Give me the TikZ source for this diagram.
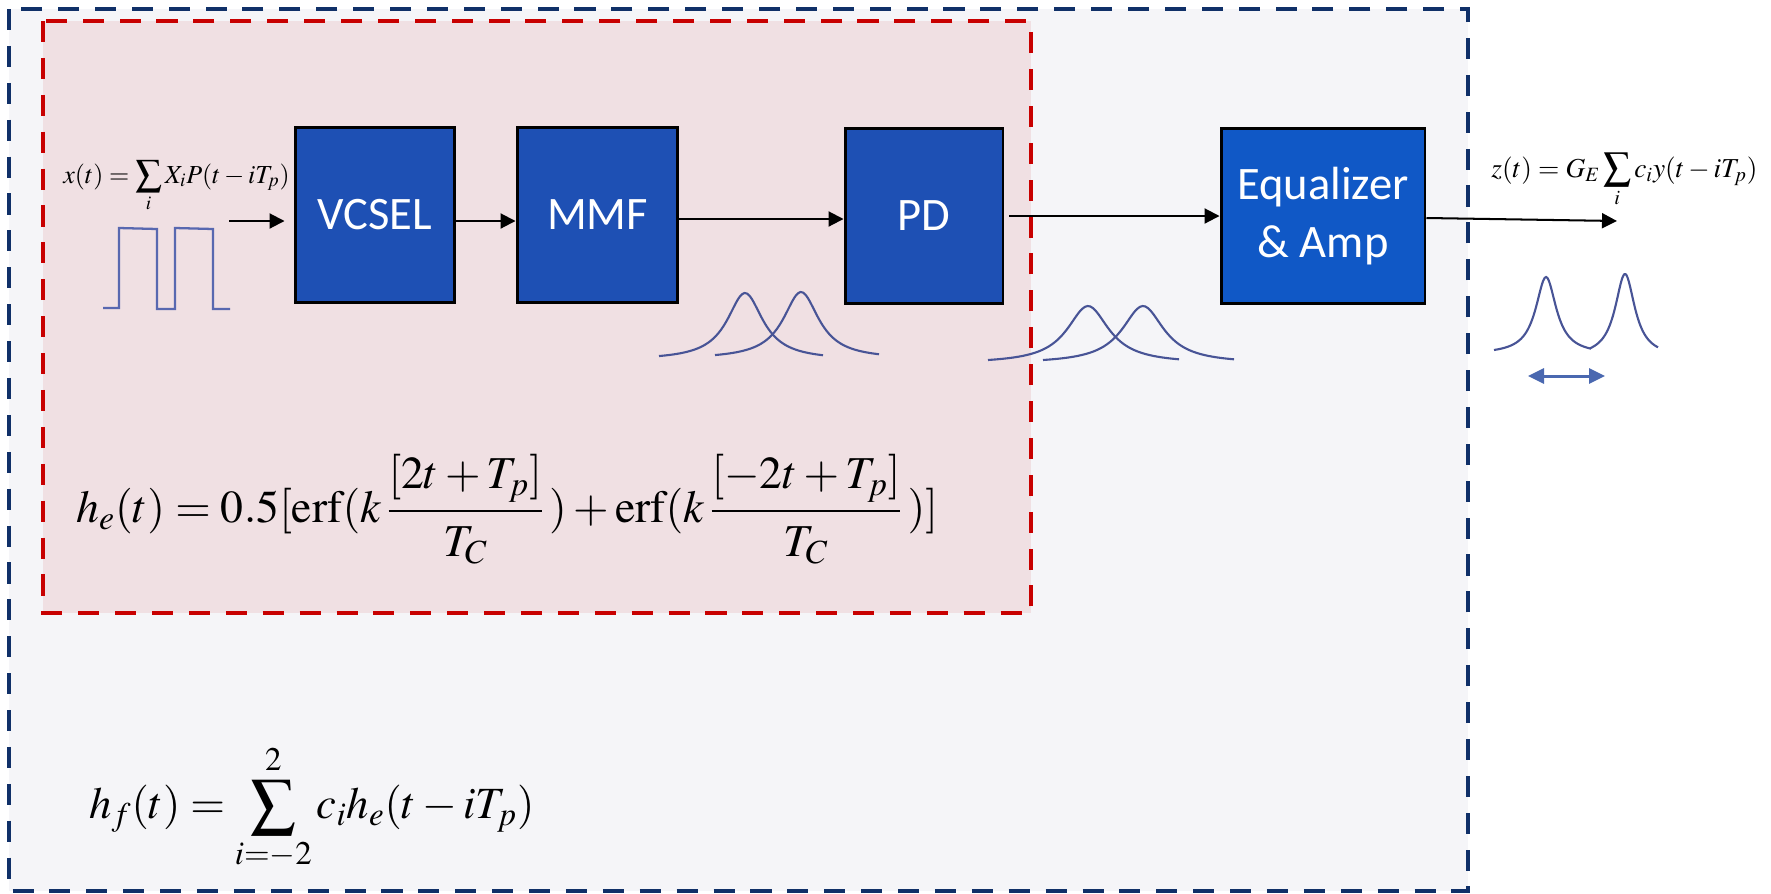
\documentclass[tikz,border=0pt]{standalone}
\usepackage{mathptmx}
\usepackage{fontspec}
\setmainfont{Liberation Serif}
\newfontfamily\boxfont{Carlito}
\usetikzlibrary{arrows.meta,calc}
\definecolor{outerfill}{RGB}{245,245,248}
\definecolor{outerline}{RGB}{16,48,104}
\definecolor{redfill}{RGB}{240,224,227}
\definecolor{redline}{RGB}{200,0,0}
\definecolor{boxblue}{RGB}{30,80,180}
\definecolor{eqblue}{RGB}{16,88,198}
\definecolor{pulsecol}{RGB}{72,84,150}
\definecolor{sqwave}{RGB}{88,104,176}
\definecolor{sparrow}{RGB}{74,104,176}
\tikzset{
  blockbox/.style={draw=black, line width=1.7pt, fill=boxblue, text=white,
    font=\boxfont\fontsize{26.5}{33}\selectfont, inner sep=0pt, align=center,
    minimum height=3.52cm},
  arr/.style={line width=1.15pt, black, -{Triangle[length=0.3cm,width=0.3cm]}},
  pulseline/.style={pulsecol, line width=1.2pt, smooth, samples=70},
  outerdash/.style={outerline, line width=2.3pt, dash pattern=on 12pt off 9pt},
  reddash/.style={redline, line width=2.8pt, dash pattern=on 12pt off 9pt},
  formula/.style={inner sep=0pt, text=black}
}
\begin{document}
\begin{tikzpicture}[x=0.02cm,y=-0.02cm]
\useasboundingbox (0,0) rectangle (1771,893);
\fill[white] (0,0) rectangle (1771,893);
% frames
\fill[outerfill] (9,9) rectangle (1468,891);
\draw[outerdash] (9,9) rectangle (1468,891);
\fill[redfill] (43,21) rectangle (1031,613);
\draw[reddash] (43,21) rectangle (1031,613);
% blocks
\node[blockbox, minimum width=3.2cm] (vcsel) at (375,215) {VCSEL};
\node[blockbox, minimum width=3.22cm] (mmf) at (597.5,215) {MMF};
\node[blockbox, minimum width=3.16cm] (pd) at (924,216) {PD};
\node[blockbox, fill=eqblue, minimum width=4.08cm] (eq) at (1323,216) {Equalizer\\\& Amp};
% connectors
\coordinate (in0) at (229,221);
\coordinate (out) at (1617,221);
\draw[arr, shorten >=0.18cm] (in0) -- (in0 -| vcsel.west);
\draw[arr] ($(vcsel.east)+(0,6)$) -- ($(mmf.west)+(0,6)$);
\draw[arr] ($(mmf.east)+(0,4)$) -- ($(pd.west)+(0,3)$);
\draw[arr] ($(pd.east)+(5,0)$) -- (eq.west);
\draw[arr] ($(eq.east)+(0,2)$) -- (out);
% square wave
\draw[sqwave, line width=1.3pt] (103,308) -- (119,308) -- (119,228) -- (157,229) -- (157,309) -- (175,309) -- (175,228) -- (213,229) -- (213,309) -- (230,309);
% pulses after MMF
\draw[pulseline, domain=-86:78] plot ({745+\x},{293+67.1*((\x/21.8)^2/(1+(\x/21.8)^2))});
\draw[pulseline, domain=-86:78] plot ({801+\x},{292+67.1*((\x/21.8)^2/(1+(\x/21.8)^2))});
% pulses after PD
\draw[pulseline, domain=-100:91] plot ({1088+\x},{306+57.5*((\x/25.5)^2/(1+(\x/25.5)^2))});
\draw[pulseline, domain=-100:91] plot ({1143+\x},{306+57.5*((\x/25.5)^2/(1+(\x/25.5)^2))});
% output pulses
\draw[pulseline, domain=-52:45] plot ({1546+\x},{277+77.2*((\x/12.5)^2/(1+(\x/12.5)^2))});
\draw[pulseline, domain=-35:33] plot ({1625+\x},{274+83*((\x/12)^2/(1+(\x/12)^2))});
% spacing arrow
\coordinate (sp0) at (1528,376);
\coordinate (sp1) at (1605,376);
\draw[sparrow, line width=1.7pt, {Triangle[length=0.32cm,width=0.3cm]}-{Triangle[length=0.32cm,width=0.3cm]}] (sp0) -- (sp1);
% formulas
\node[formula, anchor=base west, font=\fontsize{14.8}{17}\selectfont] (xform) at (63,183)
  {$x(t)=\displaystyle\sum_i X_i P(t-iT_p)$};
\node[formula, anchor=base west, font=\fontsize{15.6}{18}\selectfont] (zform) at (1491,177)
  {$z(t)=G_E\displaystyle\sum_i c_i y(t-iT_p)$};
\node[formula, anchor=west, font=\fontsize{26}{31}\selectfont] (heform) at (76,511)
  {$\displaystyle h_e(t)=0.5[\mathrm{erf}(k\,\frac{[2t+T_p]\vphantom{\big|}}{T_C\vphantom{\big|}}\,)+\mathrm{erf}(k\,\frac{[-2t+T_p]\vphantom{\big|}}{T_C\vphantom{\big|}}\,)]$};
\node[formula, anchor=west, font=\fontsize{25.4}{30}\selectfont] (hfform) at (89,808)
  {$\displaystyle h_f(t)=\sum_{i=-2}^{2} c_i h_e(t-iT_p)$};
\end{tikzpicture}
\end{document}
